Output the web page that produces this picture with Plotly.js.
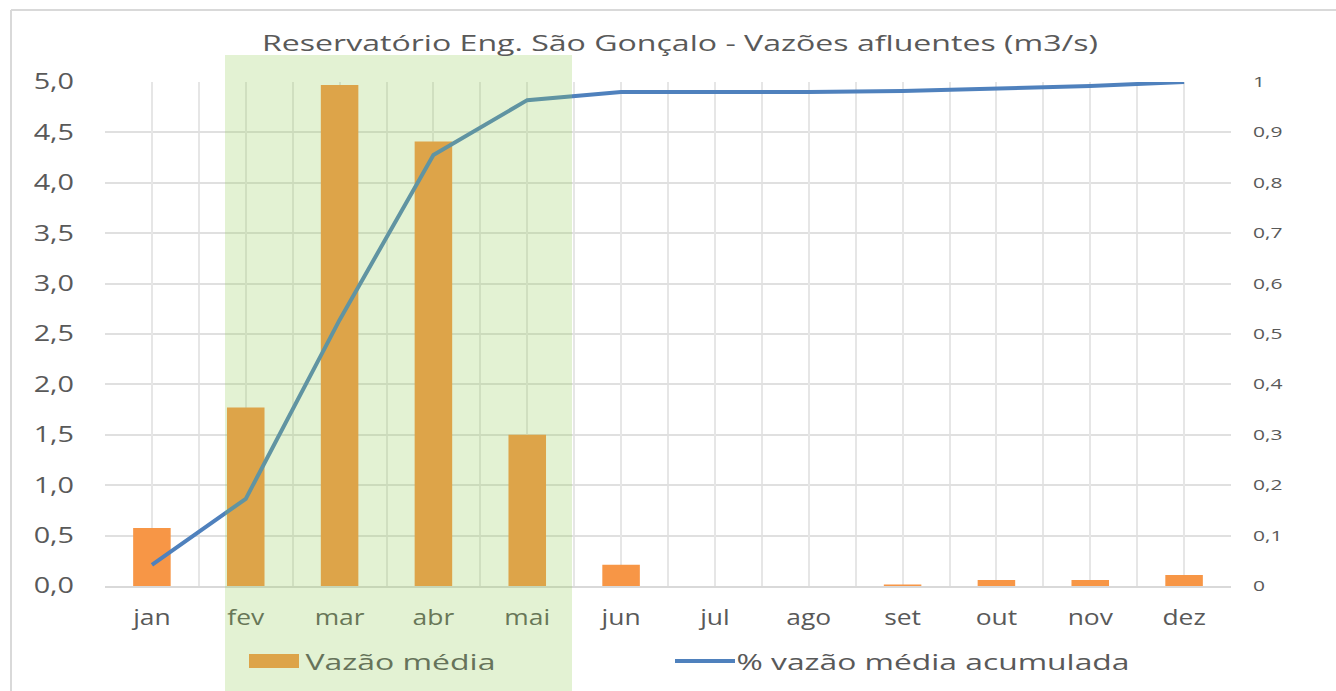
<!DOCTYPE html>
<html><head><meta charset="utf-8">
<script src="https://cdn.plot.ly/plotly-3.0.1.min.js"></script>
<style>html,body{margin:0;padding:0;background:#fff}#c{width:1336px;height:691px}</style>
</head><body><div id="c"></div>
<script>
var months = ["jan","fev","mar","abr","mai","jun","jul","ago","set","out","nov","dez"];
var vazaoMedia = [0.575, 1.77, 4.97, 4.41, 1.50, 0.21, 0.0, 0.0, 0.015, 0.06, 0.06, 0.11];
var vazaoAcumulada = [0.042, 0.173, 0.528, 0.855, 0.964, 0.980, 0.980, 0.980, 0.982, 0.988, 0.992, 1.0];
var leftTicks = [0,0.5,1,1.5,2,2.5,3,3.5,4,4.5,5];
var rightTicks = [0,0.1,0.2,0.3,0.4,0.5,0.6,0.7,0.8,0.9,1];
var seriesNames = ["Vazão média", "% vazão média acumulada"];
var chartTitle = "Reservatório Eng. São Gonçalo - Vazões afluentes (m3/s)";

var W = 1336, H = 691, L = 105, R = 105, T = 82, B = 105;
var pw = W - L - R, ph = H - T - B;
function px(x){ return (x - L) / pw; }
function py(y){ return (H - B - y) / ph; }

var fontFam = '"Open Sans", "Noto Sans", sans-serif';
var gray = '#595959';

var traces = [
  {type:'bar', x: months, y: vazaoMedia, name: seriesNames[0],
   marker:{color:'#F79646'}, width:0.4, xaxis:'x', yaxis:'y', hoverinfo:'skip'},
  {type:'scatter', mode:'lines', x: months, y: vazaoAcumulada, name: seriesNames[1],
   line:{color:'#4F81BD', width:4}, xaxis:'x2', yaxis:'y2', hoverinfo:'skip'}
];

var layout = {
  width: W, height: H,
  margin:{l:L, r:R, t:T, b:B, pad:0},
  paper_bgcolor:'#fff', plot_bgcolor:'#fff',
  separators: ',.',
  font:{family: fontFam, color: gray},
  title:{text: chartTitle, font:{size:21, color:gray, family:fontFam},
         x: px(680), xref:'paper', xanchor:'center', y: 1 - 44/H, yanchor:'middle'},
  showlegend:false,
  xaxis:{type:'category', categoryarray: months, categoryorder:'array', range:[-0.5, 11.5],
         tickson:'boundaries', showgrid:true, gridcolor:'#e6e6e6', gridwidth:2,
         showline:true, linecolor:'#d9d9d9', linewidth:2, ticks:'', ticklen:0,
         tickfont:{size:22, color:gray}, zeroline:false, ticklabelstandoff: 11},
  xaxis2:{type:'category', categoryarray: months, categoryorder:'array', range:[-0.5, 11.5],
          overlaying:'x', anchor:'y2', side:'bottom', showgrid:true, gridcolor:'#e6e6e6', gridwidth:2,
          showticklabels:false, ticks:'', showline:false, zeroline:false},
  yaxis:{range:[0,5], tickvals: leftTicks, tickformat:'.1f', showgrid:true, gridcolor:'#e0e0e0', gridwidth:2,
         zeroline:false, showline:false, ticks:'', tickfont:{size:21, color:gray}, ticklabelstandoff: 30},
  yaxis2:{range:[0,1], tickvals: rightTicks, overlaying:'y', side:'right', anchor:'x2', showgrid:false,
          zeroline:false, showline:false, ticks:'', tickfont:{size:14, color:gray}, ticklabelstandoff: 21},
  shapes:[
    {type:'rect', xref:'paper', yref:'paper', x0: px(249), x1: px(299), y0: py(668), y1: py(654),
     fillcolor:'#F79646', line:{width:0}, layer:'above'},
    {type:'line', xref:'paper', yref:'paper', x0: px(675), x1: px(735), y0: py(661), y1: py(661),
     line:{color:'#4F81BD', width:4}, layer:'above'},
    {type:'rect', xref:'paper', yref:'paper', x0: px(225), x1: px(572), y0: py(695), y1: py(55),
     fillcolor:'rgba(146,205,85,0.26)', line:{width:0}, layer:'above'},
    {type:'line', xref:'paper', yref:'paper', x0: px(11), x1: px(1340), y0: py(10), y1: py(10),
     line:{color:'#d9d9d9', width:2}},
    {type:'line', xref:'paper', yref:'paper', x0: px(11), x1: px(11), y0: py(10), y1: py(695),
     line:{color:'#d9d9d9', width:2}}
  ],
  annotations:[
    {text: seriesNames[0], xref:'paper', yref:'paper', x: px(400), y: py(661), xanchor:'center', yanchor:'middle',
     showarrow:false, font:{size:22, color:'#66735a', family:fontFam}},
    {text: seriesNames[1], xref:'paper', yref:'paper', x: px(933), y: py(661), xanchor:'center', yanchor:'middle',
     showarrow:false, font:{size:22, color:gray, family:fontFam}}
  ]
};

function stretch(sel, f, target){
  document.querySelectorAll(sel).forEach(function(t, i){
    var w = t.getComputedTextLength();
    if (w > 0) {
      var tw = target ? target[i] : w * f;
      if (tw) { t.setAttribute('textLength', tw); t.setAttribute('lengthAdjust', 'spacingAndGlyphs'); }
    }
  });
}

Plotly.newPlot('c', traces, layout, {displayModeBar:false, staticPlot:true}).then(function(){
  stretch('.gtitle', 0, [836]);
  stretch('.xtick text', 1.2);
  stretch('.ytick text', 1.37);
  stretch('.y2tick text', 1.5);
  stretch('.annotation-text', 0, [190, 393]);
});
</script>
</body></html>
